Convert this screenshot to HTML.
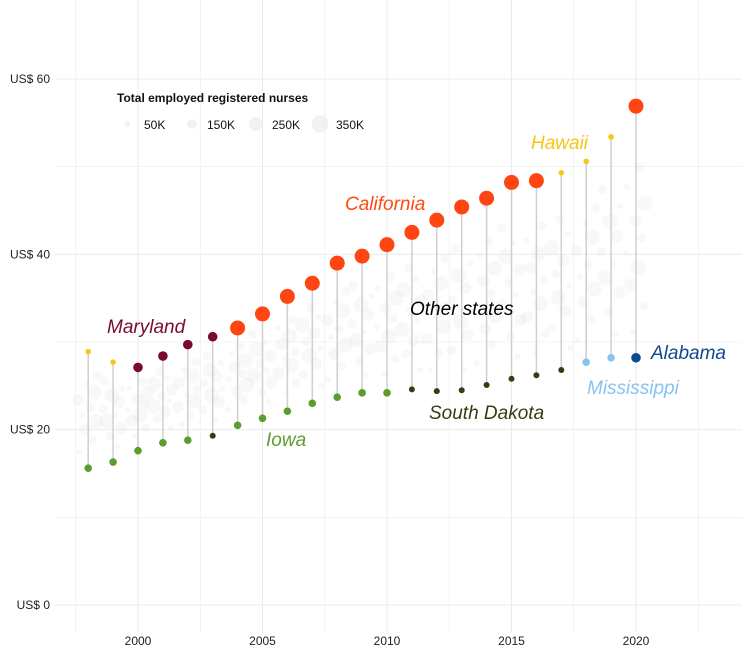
<!DOCTYPE html>
<html><head><meta charset="utf-8"><style>
body{margin:0;background:#fff;font-family:"Liberation Sans",sans-serif}
svg text{font-family:"Liberation Sans",sans-serif}
</style></head><body>
<svg id="chart" width="750" height="661" viewBox="0 0 750 661" xmlns="http://www.w3.org/2000/svg">
<g id="grid"></g>
<g id="cloud"></g>
<g id="segs"></g>
<g id="marks"></g>
<g id="axes"></g>
<g>
<text x="117" y="102" font-size="12" font-weight="bold" fill="#111">Total employed registered nurses</text>
<circle cx="127" cy="124" r="3" fill="#e6e6e6" opacity="0.5"/>
<text x="144" y="129" font-size="12" fill="#111">50K</text>
<circle cx="192" cy="124" r="5" fill="#e6e6e6" opacity="0.5"/>
<text x="207" y="129" font-size="12" fill="#111">150K</text>
<circle cx="256" cy="124" r="7" fill="#e6e6e6" opacity="0.5"/>
<text x="272" y="129" font-size="12" fill="#111">250K</text>
<circle cx="320" cy="124" r="8.5" fill="#e6e6e6" opacity="0.5"/>
<text x="336" y="129" font-size="12" fill="#111">350K</text>
</g>
<g font-size="19" font-style="italic">
<text x="107" y="333" fill="#7a0b2a">Maryland</text>
<text x="345" y="210" fill="#ff4a14">California</text>
<text x="531" y="149" fill="#f5c518">Hawaii</text>
<text x="410" y="315" fill="#000">Other states</text>
<text x="651" y="359" fill="#0b4a8c">Alabama</text>
<text x="587" y="394" fill="#86c3f0">Mississippi</text>
<text x="429" y="419" fill="#3b3a12">South Dakota</text>
<text x="266" y="446" fill="#5b9e2d">Iowa</text>
</g>
</svg>
<script>
const years=[1998,1999,2000,2001,2002,2003,2004,2005,2006,2007,2008,2009,2010,2011,2012,2013,2014,2015,2016,2017,2018,2019,2020];
const maxWage=[28.9,27.7,27.1,28.4,29.7,30.6,31.6,33.2,35.2,36.7,39.0,39.8,41.1,42.5,43.9,45.4,46.4,48.2,48.4,49.3,50.6,53.4,56.9];
const maxState=["HI","HI","MD","MD","MD","MD","CA","CA","CA","CA","CA","CA","CA","CA","CA","CA","CA","CA","CA","HI","HI","HI","CA"];
const minWage=[15.6,16.3,17.6,18.5,18.8,19.3,20.5,21.3,22.1,23.0,23.7,24.2,24.2,24.6,24.4,24.5,25.1,25.8,26.2,26.8,27.7,28.2,28.2];
const minState=["IA","IA","IA","IA","IA","SD","IA","IA","IA","IA","IA","IA","IA","SD","SD","SD","SD","SD","SD","SD","MS","MS","AL"];
const yTicks=[0,20,40,60];
const yTickLabels=["US$ 0","US$ 20","US$ 40","US$ 60"];
const xTicks=[2000,2005,2010,2015,2020];
const cloudFractions=[0.08,0.2,0.3,0.38,0.45,0.52,0.6,0.68,0.76,0.85];
const cloudJitter=[-9,4,-3,8,-6,2,-10,6,-1,9];
const colors={HI:"#f7c815",MD:"#7a0b2a",CA:"#ff4512",IA:"#5b9e2d",SD:"#3b3a12",MS:"#86c3f0",AL:"#0b4a8c"};
const radius={HI:2.8,MD:4.8,CA:7.5,IA:3.8,SD:3,MS:3.8,AL:4.8};
const X=y=>138+(y-2000)*24.9;
const Y=v=>605-v*8.767;
const NS="http://www.w3.org/2000/svg";
function mk(tag,attrs,parent){const e=document.createElementNS(NS,tag);for(const k in attrs)e.setAttribute(k,attrs[k]);document.getElementById(parent).appendChild(e);return e;}
for(let y=1997.5;y<=2023;y+=2.5){const l=mk("line",{x1:X(y),x2:X(y),y1:0,y2:632,stroke:"#ebebeb","stroke-width":y%5===0?1:0.6},"grid");

}
for(let v=0;v<=70;v+=10){const l=mk("line",{x1:55,x2:742,y1:Y(v),y2:Y(v),stroke:"#ebebeb","stroke-width":v%20===0?1:0.6},"grid");

}
yTicks.forEach((v,i)=>{const t=mk("text",{x:50,y:Y(v)+4,"text-anchor":"end","font-size":12,fill:"#222"},"axes");t.textContent=yTickLabels[i];

});
xTicks.forEach(v=>{const t=mk("text",{x:X(v),y:645,"text-anchor":"middle","font-size":12,fill:"#222"},"axes");t.textContent=v;

});
years.forEach((yr,i)=>{
 cloudFractions.forEach((f,j)=>{const v=minWage[i]+(maxWage[i]-minWage[i])*f*0.85+1;
  const c=mk("circle",{cx:X(yr)+cloudJitter[(j+i)%10],cy:Y(v),r:3+(j%4)*1.5,fill:"#dcdcdc",opacity:0.2},"cloud");
  
  });
 const s=mk("line",{x1:X(yr),x2:X(yr),y1:Y(minWage[i]),y2:Y(maxWage[i]),stroke:"#cfcfcf","stroke-width":1.5},"segs");
 
 
 const a=mk("circle",{cx:X(yr),cy:Y(maxWage[i]),r:radius[maxState[i]],fill:colors[maxState[i]]},"marks");
 
 
 const b=mk("circle",{cx:X(yr),cy:Y(minWage[i]),r:radius[minState[i]],fill:colors[minState[i]]},"marks");
 
 
});
</script>
</body></html>
